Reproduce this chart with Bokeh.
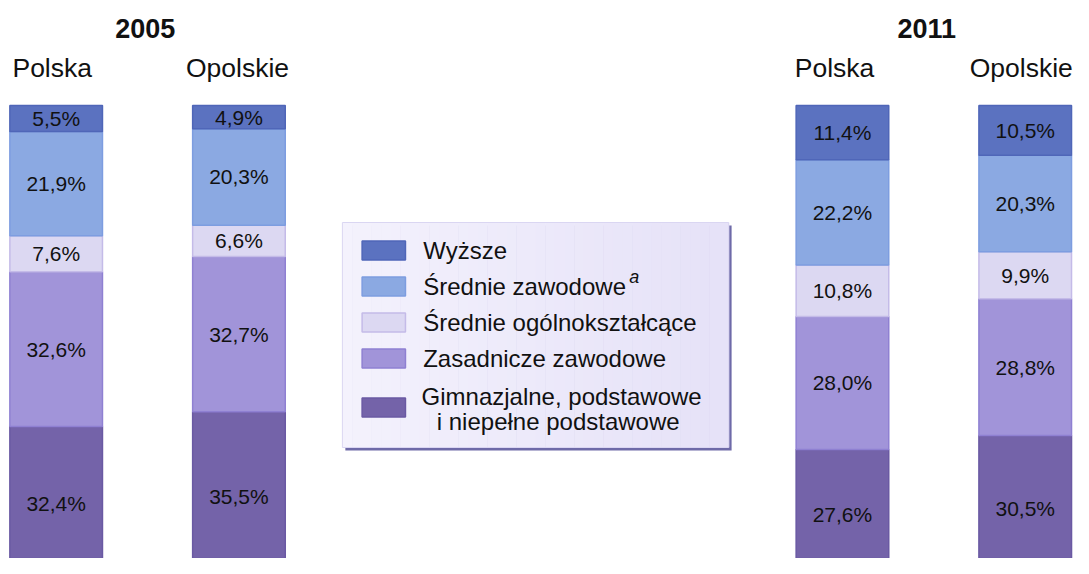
import numpy as np
from bokeh.plotting import figure
from bokeh.models import Range1d
from bokeh.core.properties import value
from bokeh.embed import file_html
from bokeh.resources import INLINE

# ---- data ----
years = ["2005", "2011"]
regions = ["Polska", "Opolskie"]
categories = ["Gimnazjalne, podstawowe\ni niepełne podstawowe",
              "Zasadnicze zawodowe",
              "Średnie ogólnokształcące",
              "Średnie zawodowe",
              "Wyższe"]
# values per bar, bottom -> top (same order as categories)
polska_2005 = [32.4, 32.6, 7.6, 21.9, 5.5]
opolskie_2005 = [35.5, 32.7, 6.6, 20.3, 4.9]
polska_2011 = [27.6, 28.0, 10.8, 22.2, 11.4]
opolskie_2011 = [30.5, 28.8, 9.9, 20.3, 10.5]

fills = ["#7463a9", "#a194d9", "#dcd8f2", "#8ba9e2", "#5b72c0"]
lines = ["#6a59a3", "#8f80d2", "#c4bbe8", "#7d9de0", "#4f66b8"]

FONT = value("Liberation Sans")

p = figure(width=1073, height=558, output_backend="svg", toolbar_location=None,
           x_range=Range1d(0, 1089), y_range=Range1d(4.63, 122.1),
           x_axis_location=None, y_axis_location=None, min_border=0)
p.grid.visible = False
p.outline_line_color = None
p.background_fill_color = "white"
p.border_fill_color = "white"
p.extra_y_ranges = {"px": Range1d(558, 0)}

# ---- bars ----
bars = [(56.5, polska_2005), (242, opolskie_2005), (854.5, polska_2011), (1040, opolskie_2011)]
BW = 94
for xc, vals in bars:
    vals = np.array(vals)
    tops = np.cumsum(vals)
    bottoms = tops - vals
    p.vbar(x=[xc] * len(vals), width=BW, bottom=bottoms, top=tops,
           fill_color=fills, line_color=lines, line_width=1.5)
    labels = [f"{v:.1f}".replace(".", ",") + "%" for v in vals]
    p.text(x=[xc] * len(vals), y=(bottoms + tops) / 2, text=labels,
           text_align="center", text_baseline="middle", text_font=FONT,
           text_font_size="21px", text_color="#111111")

# ---- headers ----
year_x = [147, 940]
p.text(x=year_x, y=[28, 28], text=years, text_align="center", text_baseline="middle",
       text_font=FONT, text_font_size="27px", text_font_style="bold",
       text_color="#111111", y_range_name="px")
reg_x = [52.5, 240.5, 846.5, 1036]
p.text(x=reg_x, y=[67] * 4, text=regions * 2, text_align="center", text_baseline="middle",
       text_font=FONT, text_font_size="26.5px", text_color="#111111", y_range_name="px")

# ---- legend box ----
LX0, LX1, LY0, LY1 = 347, 739, 222, 447
p.quad(left=LX0 + 3, right=LX1 + 3, top=LY0 + 3, bottom=LY1 + 3,
       fill_color="#6e6aa8", line_color=None, y_range_name="px")
n = 40
xs = np.linspace(LX0, LX1, n + 1)
c0 = np.array([0xf4, 0xf2, 0xfd])
c1 = np.array([0xe6, 0xe2, 0xf8])
cols = []
for i in range(n):
    t = i / (n - 1)
    c = (c0 + (c1 - c0) * t).astype(int)
    cols.append("#%02x%02x%02x" % tuple(c))
p.quad(left=xs[:-1], right=xs[1:] + 0.6, top=[LY0] * n, bottom=[LY1] * n,
       fill_color=cols, line_color=None, y_range_name="px")
p.quad(left=[LX0], right=[LX1], top=[LY0], bottom=[LY1], fill_color=None,
       line_color="#dad6f2", line_width=1, y_range_name="px")

leg_y = [407, 358, 322, 286, 250]
p.rect(x=[389] * 5, y=leg_y, width=44, height=19, fill_color=fills, line_color=lines,
       line_width=1.5, y_range_name="px")
for lab, yy in zip(categories, leg_y):
    parts = lab.split("\n")
    if len(parts) == 1:
        p.text(x=[429], y=[yy], text=[lab], text_align="left", text_baseline="middle",
               text_font=FONT, text_font_size="24px", text_color="#111111", y_range_name="px")
    else:
        p.text(x=[569.5], y=[yy - 11], text=[parts[0]], text_align="center", text_baseline="middle",
               text_font=FONT, text_font_size="24px", text_color="#111111", y_range_name="px")
        p.text(x=[566], y=[yy + 14], text=[parts[1]], text_align="center", text_baseline="middle",
               text_font=FONT, text_font_size="24px", text_color="#111111", y_range_name="px")
# footnote marker
p.text(x=[638], y=[276], text=["a"], text_align="left", text_baseline="middle",
       text_font=FONT, text_font_size="18px", text_font_style="italic",
       text_color="#111111", y_range_name="px")

open("out.html", "w").write(file_html(p, INLINE))
